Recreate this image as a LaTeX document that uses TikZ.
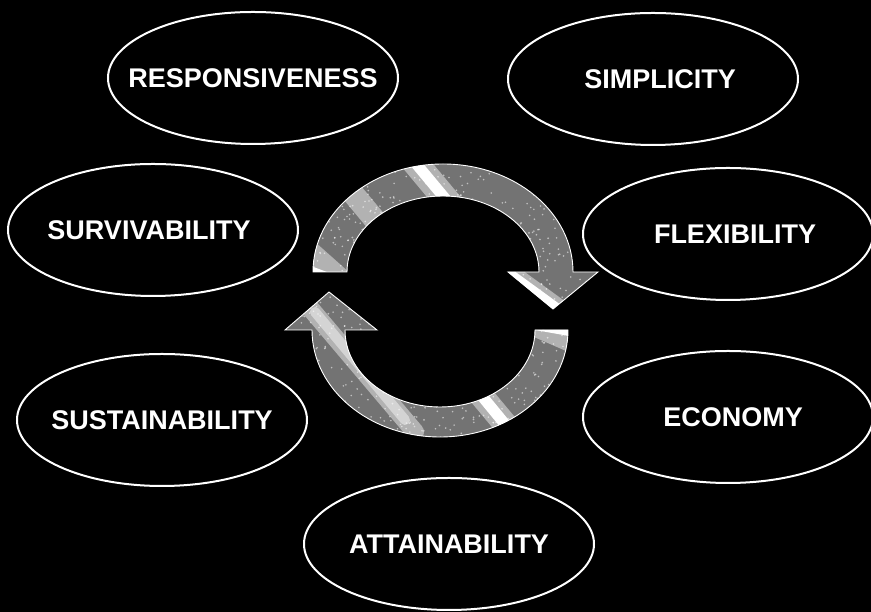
\documentclass[tikz,border=0pt]{standalone}
\usepackage{fontspec}
\setmainfont{Liberation Sans}
\usetikzlibrary{shapes.geometric}
\definecolor{arrowgray}{gray}{0.45}
\begin{document}
\begin{tikzpicture}[x=1pt,y=1pt,
  goal/.style={ellipse, draw=white, line width=2pt, minimum width=290pt, minimum height=132pt, inner sep=0pt},
  goaltext/.style={text=white, font=\bfseries\fontsize{27}{32}\selectfont, inner sep=0pt},
  shine/.style={white, line width=#1, line cap=round},
  softshine/.style={white, opacity=0.45, line width=#1, line cap=round}]
\fill[black] (0,0) rectangle (871,612);
\useasboundingbox (0,0) rectangle (871,612);

% goals
\node[goal, label={[goaltext]center:RESPONSIVENESS}] (resp) at (253,534) {};
\node[goal, label={[goaltext, xshift=7pt]center:SIMPLICITY}] (simp) at (653,533) {};
\node[goal, label={[goaltext, xshift=-4pt]center:SURVIVABILITY}] (surv) at (153,382) {};
\node[goal, label={[goaltext, xshift=7pt]center:FLEXIBILITY}] (flex) at (728,378) {};
\node[goal, label={[goaltext]center:SUSTAINABILITY}] (sust) at (162,192) {};
\node[goal, label={[goaltext, xshift=5pt]center:ECONOMY}] (econ) at (728,195) {};
\node[goal, label={[goaltext]center:ATTAINABILITY}] (atta) at (449,68) {};

\pgfmathsetseed{11}
% upper cycle arrow
\begin{scope}
\clip (313,340) arc[start angle=180, end angle=0, x radius=130, y radius=108]
  -- (598,340) -- (553,303) -- (508,340) -- (539,340)
  arc[start angle=0, end angle=180, x radius=96, y radius=76] -- cycle;
\fill[arrowgray] (300,290) rectangle (610,460);
\foreach \i in {1,...,700} {\fill[white, opacity=0.55] ({300+310*rnd},{290+170*rnd}) circle (0.9);}
\draw[softshine=26pt] (403,464) -- (453,404);
\draw[shine=11pt] (403,464) -- (453,404);
\draw[softshine=22pt] (345,428) -- (385,380);
\draw[softshine=20pt] (300,370) -- (345,330);
\draw[shine=6pt] (305,345) -- (345,330);
\draw[softshine=20pt] (505,342) -- (560,302);
\draw[shine=9pt] (508,340) -- (556,305);
\end{scope}
\draw[white, line width=0.9pt] (313,340) arc[start angle=180, end angle=0, x radius=130, y radius=108]
  -- (598,340) -- (553,303) -- (508,340) -- (539,340)
  arc[start angle=0, end angle=180, x radius=96, y radius=76] -- cycle;

% lower cycle arrow
\begin{scope}
\clip (568,282) arc[start angle=0, end angle=-180, x radius=128, y radius=107]
  -- (285,282) -- (329,320) -- (377,282) -- (345,282)
  arc[start angle=180, end angle=360, x radius=95, y radius=77] -- cycle;
\fill[arrowgray] (270,160) rectangle (590,330);
\foreach \i in {1,...,700} {\fill[white, opacity=0.55] ({270+320*rnd},{160+170*rnd}) circle (0.9);}
\draw[softshine=24pt] (525,292) -- (580,268);
\draw[shine=10pt] (530,288) -- (575,280);
\draw[softshine=24pt] (470,230) -- (520,170);
\draw[shine=11pt] (472,228) -- (518,172);
\draw[softshine=18pt] (305,310) -- (415,180);
\draw[softshine=10pt] (315,300) -- (405,192);
\end{scope}
\draw[white, line width=0.9pt] (568,282) arc[start angle=0, end angle=-180, x radius=128, y radius=107]
  -- (285,282) -- (329,320) -- (377,282) -- (345,282)
  arc[start angle=180, end angle=360, x radius=95, y radius=77] -- cycle;
\end{tikzpicture}
\end{document}
